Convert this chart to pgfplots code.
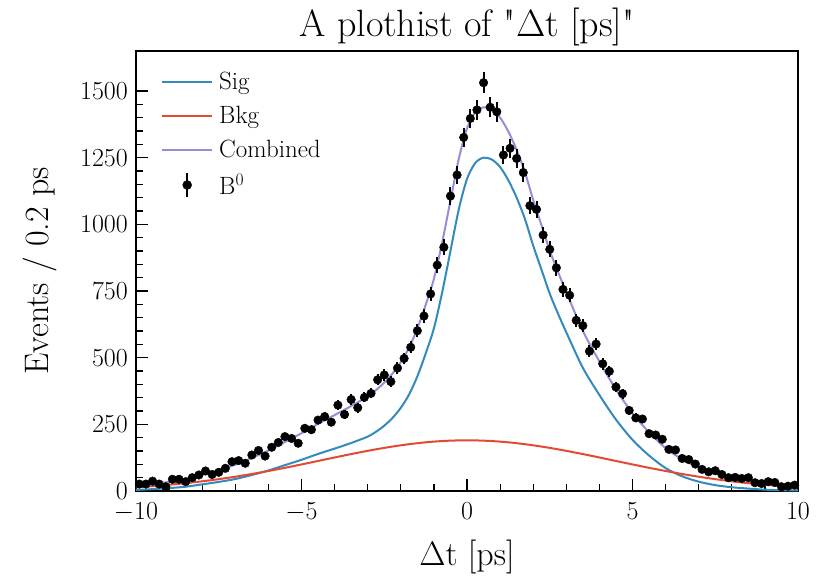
\RequirePackage{fix-cm}
\documentclass[border=0pt]{standalone}
\usepackage{pgfplots}
\pgfplotsset{compat=1.18}
\usepackage{pgfplotstable}
\definecolor{sigc}{HTML}{348ABD}
\definecolor{bkgc}{HTML}{E24A33}
\definecolor{combc}{HTML}{988ED5}

\pgfplotstableread{
x y e
-9.9 26 5
-9.7 26 5
-9.5 37 6
-9.3 26 5
-9.1 16 4
-8.9 44 7
-8.7 44 7
-8.5 35 6
-8.3 50 7
-8.1 60 8
-7.9 75 9
-7.7 62 8
-7.5 70 8
-7.3 85 9
-7.1 110 10
-6.9 114 11
-6.7 104 10
-6.5 135 12
-6.3 152 12
-6.1 131 11
-5.9 164 13
-5.7 182 13
-5.5 204 14
-5.3 197 14
-5.1 179 13
-4.9 235 15
-4.7 230 15
-4.5 266 16
-4.3 279 17
-4.1 258 16
-3.9 322 18
-3.7 287 17
-3.5 343 19
-3.3 312 18
-3.1 351 19
-2.9 366 19
-2.7 417 20
-2.5 435 21
-2.3 410 20
-2.1 461 21
-1.9 497 22
-1.7 539 23
-1.5 601 25
-1.3 656 26
-1.1 739 27
-0.9 847 29
-0.7 914 30
-0.5 1106 33
-0.3 1185 34
-0.1 1326 36
0.1 1397 37
0.3 1429 38
0.5 1531 39
0.7 1439 38
0.9 1422 38
1.1 1260 35
1.3 1285 36
1.5 1247 35
1.7 1194 35
1.9 1070 33
2.1 1056 32
2.3 960 31
2.5 906 30
2.7 837 29
2.9 756 27
3.1 734 27
3.3 640 25
3.5 620 25
3.7 524 23
3.9 551 23
4.1 477 22
4.3 449 21
4.5 390 20
4.7 365 19
4.9 302 17
5.1 274 17
5.3 270 16
5.5 215 15
5.7 210 14
5.9 194 14
6.1 156 12
6.3 154 12
6.5 122 11
6.7 118 11
6.9 101 10
7.1 81 9
7.3 72 8
7.5 76 9
7.7 62 8
7.9 50 7
8.1 51 7
8.3 47 7
8.5 50 7
8.7 31 6
8.9 28 5
9.1 35 6
9.3 32 6
9.5 16 4
9.7 18 4
9.9 22 5
}\datatable

\pgfplotstableread{
x sig bkg comb
-10 4 14.3 18.3
-9.5 7 18.4 25.4
-9 11 23.4 34.4
-8.5 16 29.4 45.4
-8 25 36.3 61.3
-7.5 34 44.4 78.4
-7 45 53.6 98.6
-6.5 60 63.8 123.8
-6 77 75.0 152
-5.5 97 87.0 184
-5 117 99.6 216.6
-4.5 139 112.6 251.6
-4 159 125.7 284.7
-3.5 180 138.5 318.5
-3 204 150.6 354.6
-2.75 222 156.3 378.3
-2.5 245 161.7 406.7
-2.25 274 166.7 440.7
-2 312 171.3 483.3
-1.75 362 175.5 537.5
-1.5 430 179.3 609.3
-1.25 515 182.5 697.5
-1 610 185.2 795.2
-0.75 745 187.3 932.3
-0.5 900 188.8 1088.8
-0.25 1055 189.7 1244.7
0 1170 190 1360
0.25 1230 189.7 1419.7
0.5 1250 188.8 1438.8
0.75 1243 187.3 1430.3
1 1215 185.2 1400.2
1.25 1165 182.5 1347.5
1.5 1100 179.3 1279.3
1.75 1020 175.5 1195.5
2 920 171.3 1091.3
2.25 830 166.7 996.7
2.5 740 161.7 901.7
2.75 665 156.3 821.3
3 595 150.6 745.6
3.5 462 138.5 600.5
4 360 125.7 485.7
4.5 268 112.6 380.6
5 192 99.6 291.6
5.5 133 87.0 220
6 86 75.0 161
6.5 55 63.8 118.8
7 35 53.6 88.6
7.5 22 44.4 66.4
8 14 36.3 50.3
8.5 9 29.4 38.4
9 5 23.4 28.4
9.5 3 18.4 21.4
10 2 14.3 16.3
}\curvetable

\begin{document}
\begin{tikzpicture}
\useasboundingbox (-136pt,-89pt) rectangle (682pt,491pt);
\begin{axis}[
  at={(0pt,0pt)}, anchor=south west,
  scale only axis,
  width=662pt, height=440pt,
  xmin=-10, xmax=10, ymin=0, ymax=1650,
  xtick={-10,-5,0,5,10},
  minor x tick num=4,
  ytick={0,250,500,750,1000,1250,1500},
  minor y tick num=4,
  tick align=inside,
  tick pos=left,
  major tick length=12pt,
  minor tick length=7pt,
  every tick/.style={black, line width=1.2pt},
  axis line style={line width=1.5pt},
  /pgf/number format/1000 sep={},
  tick label style={font=\fontsize{26}{28}\selectfont, inner sep=0pt},
  xticklabel style={yshift=-12pt},
  yticklabel style={xshift=-8pt},
  xlabel={$\Delta$t [ps]},
  ylabel={Events / 0.2 ps},
  label style={font=\fontsize{34}{36}\selectfont},
  xlabel style={at={(rel axis cs:0.5,0)}, anchor=center, yshift=-66pt},
  ylabel style={at={(rel axis cs:0,0.5)}, anchor=center, yshift=96pt},
  title={A plothist of \textquotedbl$\Delta$t [ps]\textquotedbl},
  title style={at={(rel axis cs:0.5,1)}, anchor=base, yshift=8pt,
    font=\fontsize{38}{40}\selectfont},
  scaled y ticks=false,
  legend style={draw=none, fill=none, at={(rel axis cs:0,1)}, anchor=north west,
    xshift=22pt, yshift=-17pt,
    font=\fontsize{25}{27}\selectfont, row sep=11pt, column sep=4pt},
  legend cell align=left,
  legend image code/.code={\draw[#1, line width=2pt] (0pt,0pt) -- (50pt,0pt);},
]
\addplot[sigc, line width=2pt, smooth] table[x=x, y=sig] {\curvetable};
\addlegendentry{Sig}
\addplot[bkgc, line width=2pt, smooth] table[x=x, y=bkg] {\curvetable};
\addlegendentry{Bkg}
\addplot[combc, line width=2pt, smooth] table[x=x, y=comb] {\curvetable};
\addlegendentry{Combined}
\addplot[black, only marks, mark=*, mark size=4.3pt,
  legend image code/.code={\draw[black, line width=2pt] (25pt,-12pt) -- (25pt,12pt);
    \fill[black] (25pt,0pt) circle (4.5pt);},
  error bars/.cd, y dir=both, y explicit,
  error bar style={line width=2pt}, error mark=none,
  ] table[x=x, y=y, y error=e] {\datatable};
\addlegendentry{B$^0$}
\end{axis}
\end{tikzpicture}
\end{document}
